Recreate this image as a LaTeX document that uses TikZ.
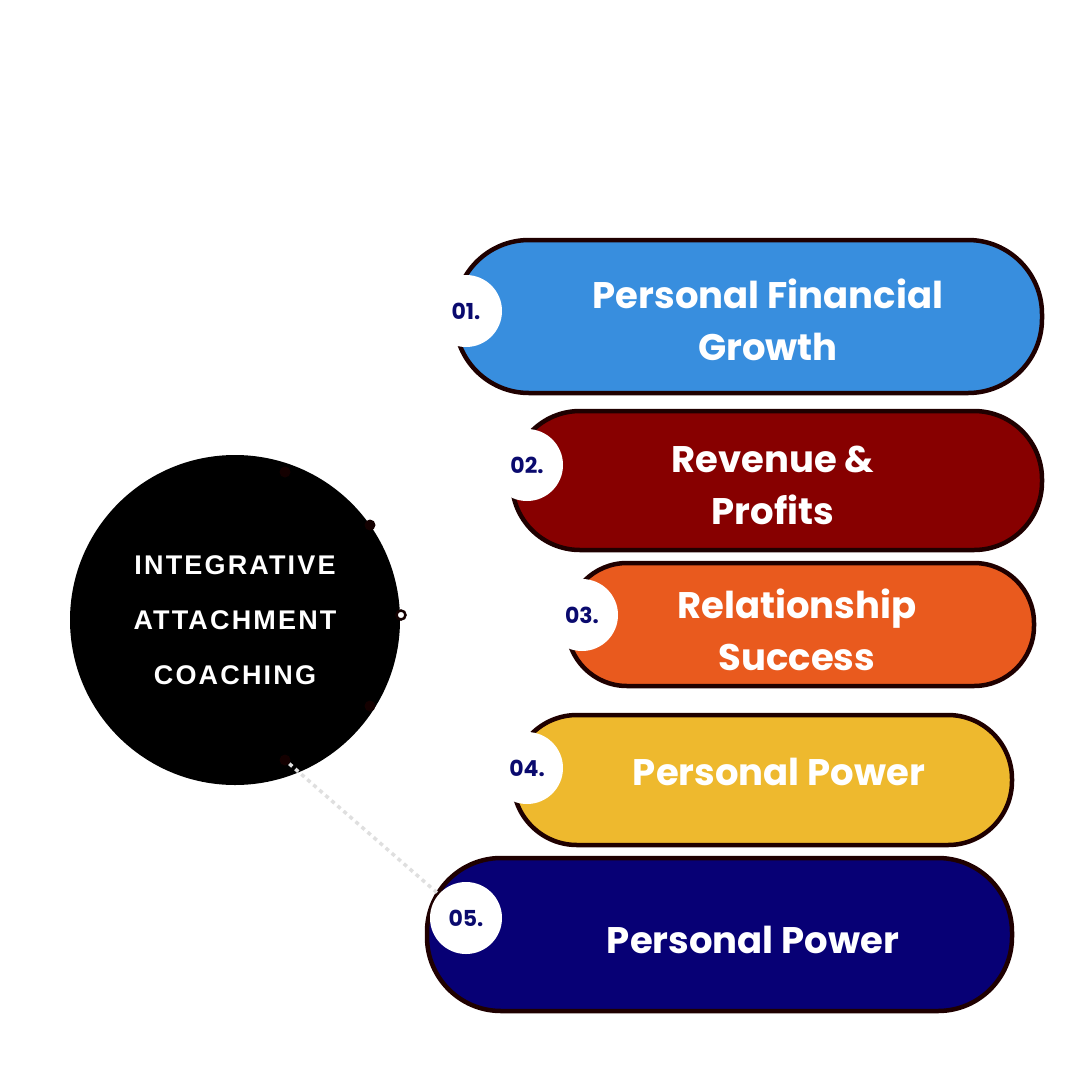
\documentclass[tikz,border=0pt]{standalone}
\usepackage{fontspec}
\setmainfont{Poppins}
\newfontfamily\arialb{Liberation Sans}
\begin{document}
\begin{tikzpicture}[x=1pt,y=-1pt,
 pill/.style={draw=black!80!red!60!black,line width=4.5pt,rounded corners=60pt,inner sep=0pt},
 num/.style={circle,fill=white,minimum size=72pt,inner sep=0pt,font=\bfseries\fontsize{22}{22}\selectfont,text=blue!50!black},
 lbl/.style={text=white,font=\bfseries\fontsize{37}{52}\selectfont,align=center},
 dot/.style={circle,fill=black!80!red!40!black,minimum size=11pt,inner sep=0pt}]
\useasboundingbox (0,0) rectangle (1080,1080);
\definecolor{c1}{HTML}{388EDE}\definecolor{c2}{HTML}{870000}\definecolor{c3}{HTML}{E95A1E}
\definecolor{c4}{HTML}{EEB92E}\definecolor{c5}{HTML}{070075}\definecolor{nv}{HTML}{0A0A6E}
\draw[pill,fill=c1,rounded corners=74pt] (455,240) rectangle (1042,393);
\draw[pill,fill=c2,rounded corners=68pt] (512,411) rectangle (1042,550);
\draw[pill,fill=c3,rounded corners=60pt] (567,563) rectangle (1034,686);
\draw[pill,fill=c4,rounded corners=64pt] (513,715) rectangle (1012,845);
\draw[pill,fill=c5,rounded corners=74pt] (427,858) rectangle (1012,1011);
\node[num,text=nv] (n1) at (466,311) {01.};
\node[num,text=nv] (n2) at (527,465) {02.};
\node[num,text=nv] (n3) at (582,615) {03.};
\node[num,text=nv] (n4) at (527,768) {04.};
\node[num,text=nv] (n5) at (466,918) {05.};
\node[lbl] (t1) at (768,320) {Personal Financial\\Growth};
\node[lbl] (t2) at (773,485) {Revenue \&\\Profits};
\node[lbl] (t3) at (797,630) {Relationship\\Success};
\node[lbl] (t4) at (779,772) {Personal Power};
\node[lbl] (t5) at (753,940) {Personal Power};
\node[circle,fill=black,minimum size=330pt,inner sep=0pt,align=center,text=white,
 font=\arialb\bfseries\fontsize{27}{55}\selectfont] (c) at (235,620)
 {\addfontfeature{LetterSpace=8}INTEGRATIVE\\\addfontfeature{LetterSpace=8}ATTACHMENT\\\addfontfeature{LetterSpace=8}COACHING};
\node[dot] (d1) at (285,472) {};
\node[dot] (d2) at (370,525) {};
\node[circle,draw=black!80!red!40!black,fill=white,line width=2.5pt,minimum size=9pt,inner sep=0pt] (d3) at (401,615) {};
\node[dot] (d4) at (370,706) {};
\node[dot] (d5) at (285,760) {};
\draw[gray!25,line width=3.5pt,dash pattern=on 4pt off 4pt] (d5) -- (n5);
\end{tikzpicture}
\end{document}
